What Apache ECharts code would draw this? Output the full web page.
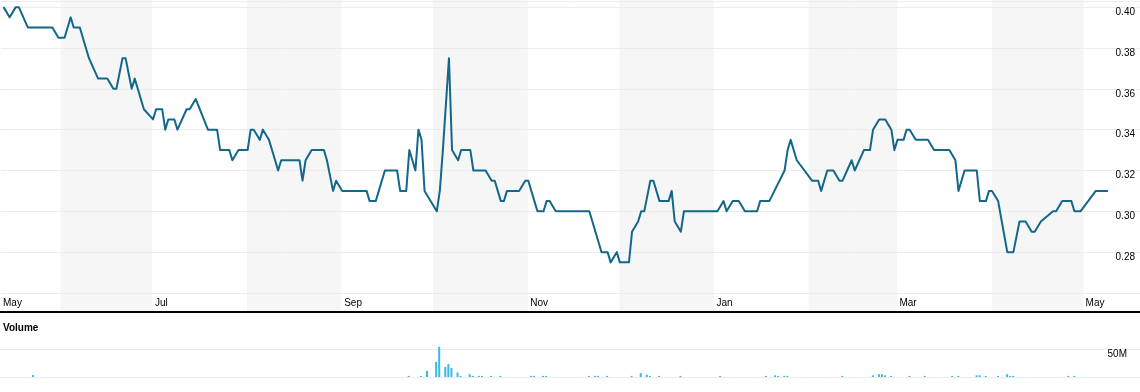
<!DOCTYPE html>
<html>
<head>
<meta charset="utf-8">
<script src="https://cdn.jsdelivr.net/npm/echarts@6/dist/echarts.min.js"></script>
<style>html,body{margin:0;padding:0;background:#fff}#c{width:1140px;height:392px}</style>
</head>
<body>
<div id="c"></div>
<script>
// ---- data ----
const priceDates = [
 '2011-05-13','2011-05-15','2011-05-17','2011-05-18','2011-05-21','2011-05-29','2011-05-31','2011-06-02','2011-06-04','2011-06-05',
 '2011-06-07','2011-06-10','2011-06-13','2011-06-16','2011-06-18','2011-06-19','2011-06-21','2011-06-22','2011-06-24','2011-06-25',
 '2011-06-26','2011-06-28','2011-07-01','2011-07-02','2011-07-04','2011-07-05','2011-07-06','2011-07-08','2011-07-09','2011-07-12',
 '2011-07-13','2011-07-15','2011-07-19','2011-07-22','2011-07-23','2011-07-26','2011-07-27','2011-07-29','2011-08-01','2011-08-02',
 '2011-08-03','2011-08-05','2011-08-06','2011-08-08','2011-08-09','2011-08-11','2011-08-12','2011-08-18','2011-08-19','2011-08-20',
 '2011-08-22','2011-08-26','2011-08-27','2011-08-29','2011-08-30','2011-09-01','2011-09-09','2011-09-10','2011-09-12','2011-09-13',
 '2011-09-15','2011-09-19','2011-09-20','2011-09-22','2011-09-23','2011-09-25','2011-09-26','2011-09-27','2011-09-28','2011-10-02',
 '2011-10-03','2011-10-04','2011-10-06','2011-10-07','2011-10-09','2011-10-10','2011-10-13','2011-10-14','2011-10-18','2011-10-20',
 '2011-10-21','2011-10-23','2011-10-24','2011-10-25','2011-10-29','2011-10-31','2011-11-01','2011-11-03','2011-11-04','2011-11-06',
 '2011-11-07','2011-11-08','2011-11-10','2011-11-21','2011-11-22','2011-11-24','2011-11-25','2011-11-27','2011-11-28','2011-11-30',
 '2011-12-01','2011-12-04','2011-12-05','2011-12-07','2011-12-08','2011-12-09','2011-12-11','2011-12-12','2011-12-14','2011-12-17',
 '2011-12-18','2011-12-19','2011-12-21','2011-12-22','2012-01-02','2012-01-04','2012-01-05','2012-01-07','2012-01-09','2012-01-11',
 '2012-01-15','2012-01-16','2012-01-19','2012-01-24','2012-01-25','2012-01-26','2012-01-28','2012-02-02','2012-02-04','2012-02-05',
 '2012-02-07','2012-02-09','2012-02-11','2012-02-12','2012-02-15','2012-02-16','2012-02-19','2012-02-21','2012-02-22','2012-02-24',
 '2012-02-26','2012-02-28','2012-02-29','2012-03-01','2012-03-03','2012-03-04','2012-03-05','2012-03-07','2012-03-11','2012-03-13',
 '2012-03-18','2012-03-20','2012-03-21','2012-03-23','2012-03-27','2012-03-28','2012-03-30','2012-03-31','2012-04-01','2012-04-03',
 '2012-04-06','2012-04-08','2012-04-10','2012-04-12','2012-04-14','2012-04-15','2012-04-17','2012-04-21','2012-04-22','2012-04-24',
 '2012-04-27','2012-04-28','2012-04-30','2012-05-05','2012-05-09'
];
const priceValues = [
 0.40,0.395,0.40,0.40,0.39,0.39,0.385,0.385,0.395,0.39,
 0.39,0.375,0.365,0.365,0.36,0.36,0.375,0.375,0.36,0.365,
 0.36,0.35,0.345,0.35,0.35,0.34,0.345,0.345,0.34,0.35,
 0.35,0.355,0.34,0.34,0.33,0.33,0.325,0.33,0.33,0.34,
 0.34,0.335,0.34,0.335,0.33,0.32,0.325,0.325,0.315,0.325,
 0.33,0.33,0.325,0.31,0.315,0.31,0.31,0.305,0.305,0.31,
 0.32,0.32,0.31,0.31,0.33,0.32,0.34,0.335,0.31,0.30,
 0.31,0.33,0.375,0.33,0.325,0.33,0.33,0.32,0.32,0.315,
 0.315,0.305,0.305,0.31,0.31,0.315,0.315,0.305,0.30,0.30,
 0.305,0.305,0.30,0.30,0.295,0.285,0.28,0.28,0.275,0.28,
 0.275,0.275,0.29,0.295,0.30,0.30,0.315,0.315,0.305,0.305,
 0.31,0.295,0.29,0.30,0.30,0.305,0.30,0.305,0.305,0.30,
 0.30,0.305,0.305,0.32,0.33,0.335,0.325,0.315,0.315,0.31,
 0.32,0.32,0.315,0.315,0.325,0.32,0.33,0.33,0.34,0.345,
 0.345,0.34,0.33,0.335,0.335,0.34,0.34,0.335,0.335,0.33,
 0.33,0.325,0.31,0.32,0.32,0.305,0.305,0.31,0.31,0.305,
 0.28,0.28,0.295,0.295,0.29,0.29,0.295,0.30,0.30,0.305,
 0.305,0.30,0.30,0.31,0.31
];
const volumeDates = [
 '2011-05-23','2011-09-23','2011-09-27','2011-09-29','2011-10-02','2011-10-03','2011-10-05','2011-10-06','2011-10-07','2011-10-09',
 '2011-10-10','2011-10-13','2011-10-14','2011-10-16','2011-10-17','2011-10-20','2011-10-23','2011-11-02','2011-11-03','2011-11-06',
 '2011-11-07','2011-11-21','2011-11-23','2011-11-24','2011-11-27','2011-12-05','2011-12-08','2011-12-10','2011-12-11','2011-12-14',
 '2011-12-21','2012-01-03','2012-01-18','2012-01-21','2012-01-22','2012-01-24','2012-01-25','2012-02-12','2012-02-22','2012-02-24',
 '2012-02-25','2012-02-26','2012-02-28','2012-03-05','2012-03-10','2012-03-19','2012-03-21','2012-03-27','2012-03-28','2012-03-30',
 '2012-04-03','2012-04-06','2012-04-07','2012-04-08','2012-04-26','2012-04-28'
];
const volumeMillions = [
 3.5,2,2,11,27,54,18,23,16,8,
 2,5,2,2,2,2,2,2,2,2,
 2,2,2,2,2,2,7,4,2,2,
 2,2,2,3,2,2,2,2,3,5,
 5,3,2,2,2,2,2,3,3,2,
 2,5,2,2,2,2
];
const shadedMonths = [
 ['2011-06-01','2011-07-01'],['2011-08-01','2011-09-01'],['2011-10-01','2011-11-01'],
 ['2011-12-01','2012-01-01'],['2012-02-01','2012-03-01'],['2012-04-01','2012-05-01']
];
const axisStart = '2011-05-12T04';
const axisEnd = '2012-05-19T12';
const tickDates = ['2011-05-12T04','2011-07-01','2011-09-01','2011-11-01','2012-01-01','2012-03-01','2012-05-01'];
const tickLabels = ['May','Jul','Sep','Nov','Jan','Mar','May'];
const priceTicks = {min:0.26, max:0.403, step:0.02};
const volumeTicks = {min:0, max:50, step:50, label:'50M'};

// ---- helpers ----
function ts(s){
  const [d,t] = s.split('T');
  const [y,m,dd] = d.split('-').map(Number);
  const h = t ? Number(t) : 0;
  return Date.UTC(y, m-1, dd, h);
}
const FONT = '"Liberation Sans", Arial, Helvetica, sans-serif';
const xMin = ts(axisStart), xMax = ts(axisEnd);
const tickTs = tickDates.map(ts);

const chart = echarts.init(document.getElementById('c'), null, {renderer:'canvas'});
const option = {
  animation: false,
  title: {
    text: 'Volume', left: 3, top: 323, padding: 0,
    textStyle: {fontSize: 10, fontWeight: 'bold', color: '#000', fontFamily: FONT}
  },
  grid: [
    {left: 0, right: 0, top: 1, height: 292},
    {left: 0, right: 0, top: 0, height: 312},
    {left: 0, right: 0, top: 349, height: 28}
  ],
  xAxis: [
    {
      type: 'value', gridIndex: 0, min: xMin, max: xMax, scale: true,
      axisLine: {show: false}, axisTick: {show: false}, splitLine: {show: false},
      axisLabel: {
        customValues: tickTs,
        formatter: function (v) { const k = tickTs.indexOf(v); return k >= 0 ? tickLabels[k] : ''; },
        align: 'left', margin: 5, padding: [0, 0, 0, 2],
        color: '#000', fontSize: 10, fontFamily: FONT
      }
    },
    {
      type: 'value', gridIndex: 1, min: xMin, max: xMax, scale: true,
      axisLine: {show: true, onZero: false, lineStyle: {color: '#000', width: 2}},
      axisTick: {show: false}, axisLabel: {show: false}, splitLine: {show: false}
    },
    {type: 'value', gridIndex: 2, min: xMin, max: xMax, scale: true, show: false}
  ],
  yAxis: [
    {
      type: 'value', gridIndex: 0, position: 'right',
      min: priceTicks.min, max: priceTicks.max, interval: priceTicks.step,
      axisLine: {show: false}, axisTick: {show: false},
      splitLine: {lineStyle: {color: '#ececec', width: 1}},
      axisLabel: {
        inside: true, margin: 5, verticalAlign: 'top',
        showMinLabel: false, showMaxLabel: false,
        formatter: function (v) { return v.toFixed(2); },
        color: '#000', fontSize: 10, fontFamily: FONT
      }
    },
    {type: 'value', gridIndex: 1, min: 0, max: 1, show: false},
    {
      type: 'value', gridIndex: 2, position: 'right',
      min: volumeTicks.min, max: volumeTicks.max, interval: volumeTicks.step,
      axisLine: {show: false}, axisTick: {show: false},
      splitLine: {lineStyle: {color: '#ececec', width: 1}},
      axisLabel: {
        inside: true, margin: 13, verticalAlign: 'top',
        formatter: function (v) { return v === volumeTicks.max ? volumeTicks.label : ''; },
        color: '#000', fontSize: 10, fontFamily: FONT
      }
    }
  ],
  series: [
    {
      type: 'custom', xAxisIndex: 1, yAxisIndex: 1, z: -5, silent: true,
      data: shadedMonths.map(function (p) { return [ts(p[0]), ts(p[1])]; }),
      encode: {x: [0, 1]},
      renderItem: function (params, api) {
        const s = api.coord([api.value(0), 0]);
        const e = api.coord([api.value(1), 0]);
        const cs = params.coordSys;
        return {type: 'rect', shape: {x: s[0], y: cs.y, width: e[0] - s[0], height: cs.height},
                style: {fill: '#f6f6f6'}};
      }
    },
    {
      type: 'line', xAxisIndex: 0, yAxisIndex: 0, z: 3,
      symbol: 'none', showSymbol: false, clip: false,
      lineStyle: {color: '#13678a', width: 2, join: 'round'},
      data: priceDates.map(function (d, i) { return [ts(d), priceValues[i]]; })
    },
    {
      type: 'bar', xAxisIndex: 2, yAxisIndex: 2, barWidth: 2, clip: false,
      itemStyle: {color: '#3bb8e8'},
      data: volumeDates.map(function (d, i) { return [ts(d), volumeMillions[i]]; })
    }
  ]
};
chart.setOption(option);
</script>
</body>
</html>
